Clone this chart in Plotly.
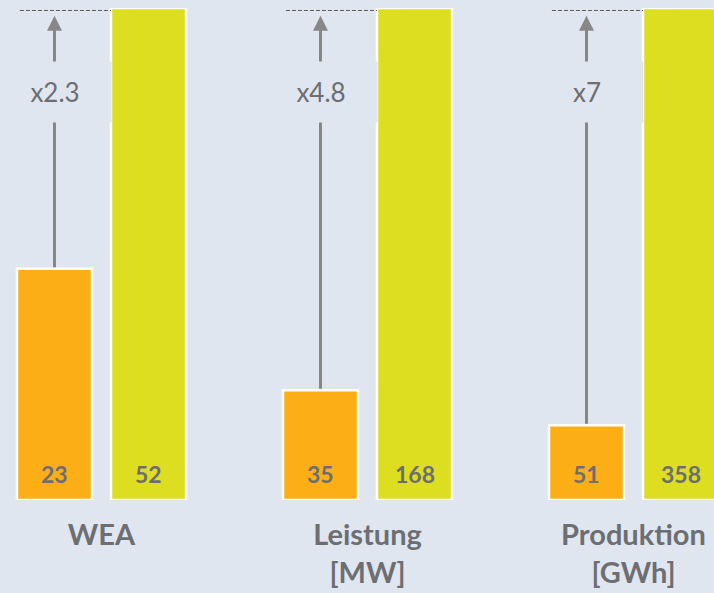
import plotly.graph_objects as go

# ---- data ----
categories = ["WEA", "Leistung<br>[MW]", "Produktion<br>[GWh]"]
before_values = [23, 35, 51]          # orange bars (labels)
after_values = [52, 168, 358]         # yellow bars (labels)
factor_labels = ["x2.3", "x4.8", "x7"]
before_height_pct = [47.0, 22.3, 15.2]  # drawn height relative to yellow bar (=100)
after_height_pct = [100, 100, 100]

# ---- style ----
BG = "#DFE6EF"
ORANGE = "#FCAE17"
YELLOW = "#DCDE1F"
TEXT = "#6D6E71"
ARROW = "#878787"
FONT = "Lato"

BARGAP = 0.2932
BARGROUPGAP = 0.202
slot = (1 - BARGAP) / 2
off = slot / 2
bar_w = slot * (1 - BARGROUPGAP)

fig = go.Figure()
fig.add_trace(go.Bar(x=categories, y=before_height_pct, marker=dict(color=ORANGE, line=dict(color="white", width=2.5)),
                     cliponaxis=False, hoverinfo="skip"))
fig.add_trace(go.Bar(x=categories, y=after_height_pct, marker=dict(color=YELLOW, line=dict(color="white", width=2.5)),
                     cliponaxis=False, hoverinfo="skip"))

annotations = []
shapes = []
for i in range(len(categories)):
    xo = i - off
    xy = i + off
    # dashed reference line at top
    shapes.append(dict(type="line", xref="x", yref="y", x0=xo - 0.13, x1=xy - bar_w / 2,
                       y0=99.5, y1=99.5, line=dict(color="#5A5A5A", width=1, dash="4px,2px")))
    # arrow from orange bar top to the top line
    annotations.append(dict(x=xo, y=98.4, ax=xo, ay=before_height_pct[i], xref="x", yref="y",
                            axref="x", ayref="y", text="", showarrow=True, arrowhead=2,
                            arrowsize=1, arrowwidth=3, arrowcolor=ARROW, standoff=0, startstandoff=0))
    # factor label, with background box covering the arrow
    annotations.append(dict(x=xo, y=82.9, xref="x", yref="y", text=factor_labels[i], showarrow=False,
                            bgcolor=BG, width=110, height=58, font=dict(family=FONT, size=26, color=TEXT)))
    # value labels inside bars
    annotations.append(dict(x=xo, y=0, xref="x", yref="y", text=str(before_values[i]), showarrow=False,
                            yanchor="middle", yshift=26,
                            font=dict(family=FONT, size=23, color=TEXT, weight="bold")))
    annotations.append(dict(x=xy, y=0, xref="x", yref="y", text=str(after_values[i]), showarrow=False,
                            yanchor="middle", yshift=26,
                            font=dict(family=FONT, size=23, color=TEXT, weight="bold")))

fig.update_layout(
    width=714, height=593,
    margin=dict(l=0, r=0, t=8, b=93),
    paper_bgcolor=BG, plot_bgcolor=BG,
    barmode="group", bargap=BARGAP, bargroupgap=BARGROUPGAP,
    showlegend=False,
    shapes=shapes, annotations=annotations,
    xaxis=dict(range=[-101.5 / 266, (714 - 101.5) / 266], showgrid=False, zeroline=False,
               showline=False, ticks="", ticklabelstandoff=15,
               tickfont=dict(family=FONT, size=29, color=TEXT, weight="bold")),
    yaxis=dict(range=[0, 100], visible=False, showgrid=False, zeroline=False),
)

fig.write_html("out.html")
